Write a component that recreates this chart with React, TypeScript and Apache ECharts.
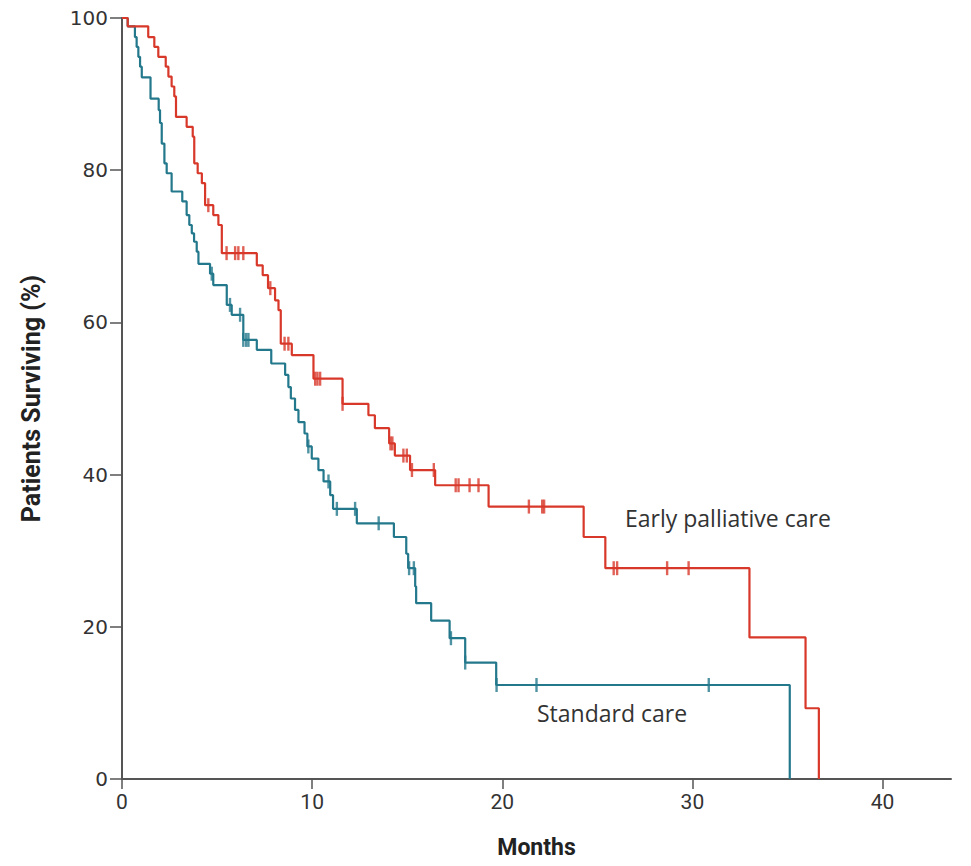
import React, { useEffect, useRef } from "react";
import * as echarts from "echarts";

// Kaplan–Meier steps: [month, % surviving after the event]
const earlyCare: [number, number][] = [
  [0, 100], [0.3, 98.9], [1.38, 97.5], [1.7, 96.2], [1.91, 94.9], [2.3, 93.6], [2.44, 92.3],
  [2.61, 91.0], [2.75, 89.7], [2.84, 87.0], [3.4, 85.7], [3.72, 84.4], [3.8, 80.9], [3.98, 79.6],
  [4.2, 78.3], [4.37, 75.4], [4.8, 74.1], [5.07, 72.8], [5.25, 69.1], [7.09, 67.5], [7.4, 66.2],
  [7.68, 64.5], [8.05, 62.9], [8.23, 61.6], [8.35, 57.2], [8.93, 55.7], [10.07, 52.6],
  [11.6, 49.3], [12.96, 47.8], [13.3, 46.1], [14.05, 44.1], [14.35, 42.5], [15.15, 40.6],
  [16.47, 38.6], [19.28, 35.8], [24.28, 31.8], [25.42, 27.7], [33.0, 18.6], [35.95, 9.3],
  [36.65, 0],
];
const earlyCensor: number[] = [
  4.54, 5.5, 5.95, 6.12, 6.38, 7.8, 8.55, 8.75, 10.16, 10.28, 10.42, 11.6, 14.12, 14.22, 14.8,
  14.98, 15.25, 16.4, 17.55, 17.7, 18.28, 18.75, 21.4, 22.1, 22.2, 25.86, 26.04, 28.67, 29.8,
];

const standardCare: [number, number][] = [
  [0, 100], [0.3, 98.9], [0.68, 97.5], [0.77, 96.2], [0.86, 94.9], [0.95, 93.6], [1.04, 92.2],
  [1.5, 89.4], [1.93, 87.9], [2.0, 86.2], [2.09, 83.5], [2.23, 80.9], [2.35, 79.6], [2.61, 77.2],
  [3.17, 75.9], [3.4, 74.1], [3.54, 72.8], [3.67, 71.7], [3.79, 70.6], [3.93, 69.3],
  [4.02, 67.7], [4.63, 66.4], [4.8, 64.9], [5.51, 62.3], [5.77, 61.0], [6.38, 57.7],
  [7.09, 56.4], [7.85, 54.6], [8.58, 53.1], [8.75, 51.5], [8.88, 50.0], [9.1, 48.5],
  [9.28, 46.9], [9.6, 45.4], [9.75, 43.7], [9.98, 42.1], [10.33, 40.6], [10.6, 39.1],
  [10.95, 37.3], [11.1, 35.5], [12.35, 33.6], [14.3, 31.8], [14.95, 29.6], [15.05, 27.7],
  [15.42, 25.3], [15.47, 23.1], [16.26, 20.8], [17.23, 18.5], [18.05, 15.3], [19.68, 12.35],
  [35.12, 0],
];
const standardCensor: number[] = [
  4.72, 5.68, 6.21, 6.38, 6.53, 6.65, 9.8, 10.86, 11.3, 12.26, 13.5, 15.1, 15.35, 17.3, 18.05,
  19.7, 21.8, 30.86,
];

const xTicks = [0, 10, 20, 30, 40];

const RED = "#d8382a";
const TEAL = "#23788c";
const NARROW = "'Liberation Sans Narrow', 'Roboto', sans-serif";

function levelAt(curve: [number, number][], t: number): number {
  let v = curve[0][1];
  for (const [x, y] of curve) {
    if (x <= t) v = y;
    else break;
  }
  return v;
}

export default function App() {
  const ref = useRef<HTMLDivElement>(null);
  useEffect(() => {
    document.body.style.margin = "0";
    if (!ref.current) return;
    const chart = echarts.init(ref.current, null, { renderer: "svg" });
    chart.setOption({
      animation: false,
      backgroundColor: "#ffffff",
      grid: { left: 122, right: 20, top: 18, bottom: 87, outerBoundsMode: "none", containLabel: false },
      xAxis: {
        type: "value",
        min: 0,
        max: 43.6,
        interval: 10,
        name: "Months",
        nameLocation: "middle",
        nameGap: 57,
        nameTextStyle: { fontFamily: NARROW, fontWeight: "bold", fontSize: 23, color: "#222" },
        axisLine: { lineStyle: { color: "#555", width: 2 } },
        axisTick: { show: true, length: 10, lineStyle: { color: "#555", width: 1.5 }, customValues: xTicks },
        axisLabel: { customValues: xTicks, fontFamily: NARROW, fontSize: 21, color: "#333", margin: 12 },
        splitLine: { show: false },
      },
      yAxis: {
        type: "value",
        min: 0,
        max: 100,
        interval: 20,
        name: "Patients Surviving (%)",
        nameLocation: "middle",
        nameGap: 78,
        nameRotate: 90,
        nameTextStyle: { fontFamily: NARROW, fontWeight: "bold", fontSize: 25, color: "#222" },
        axisLine: { show: true, lineStyle: { color: "#555", width: 2 } },
        axisTick: { show: true, length: 12, lineStyle: { color: "#555", width: 1.5 } },
        axisLabel: { fontFamily: "DejaVu Sans", fontSize: 20, color: "#333", margin: 14 },
        splitLine: { show: false },
      },
      series: [
        {
          name: "Early palliative care",
          type: "line",
          step: "end",
          data: earlyCare,
          showSymbol: false,
          lineStyle: { color: RED, width: 2.2 },
          z: 3,
        },
        {
          name: "Standard care",
          type: "line",
          step: "end",
          data: standardCare,
          showSymbol: false,
          lineStyle: { color: TEAL, width: 2.2 },
          z: 2,
        },
        {
          type: "scatter",
          data: earlyCensor.map((t) => [t, levelAt(earlyCare, t)]),
          symbol: "rect",
          symbolSize: [2.4, 14],
          itemStyle: { color: RED },
          z: 4,
        },
        {
          type: "scatter",
          data: standardCensor.map((t) => [t, levelAt(standardCare, t)]),
          symbol: "rect",
          symbolSize: [2.4, 14],
          itemStyle: { color: TEAL },
          z: 4,
        },
      ],
      graphic: [
        {
          type: "text",
          left: 625,
          top: 506,
          style: { text: "Early palliative care", font: "23px 'Open Sans'", fill: "#333" },
        },
        {
          type: "text",
          left: 537,
          top: 701,
          style: { text: "Standard care", font: "23px 'Open Sans'", fill: "#333" },
        },
      ],
    });
    return () => chart.dispose();
  }, []);
  return <div ref={ref} style={{ width: 971, height: 866 }} />;
}
